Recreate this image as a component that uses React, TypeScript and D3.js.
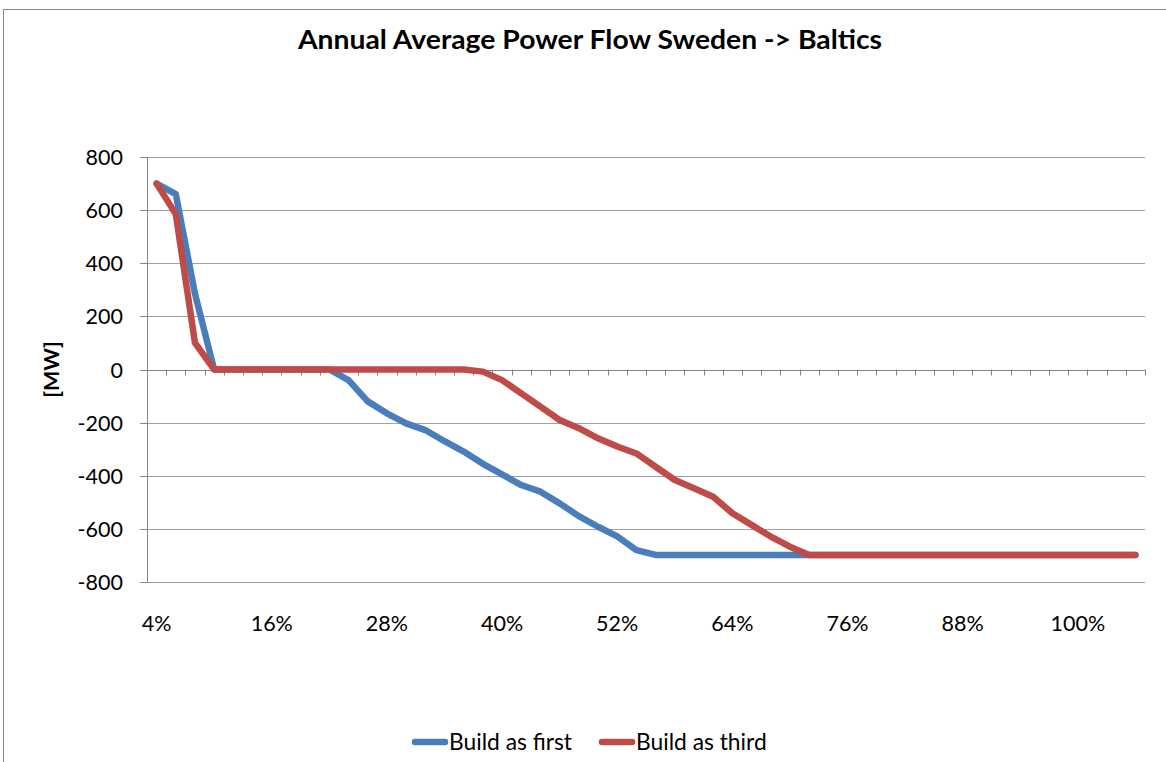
import React from "react";
import * as d3 from "d3";

const categories: string[] = Array.from({ length: 52 }, (_, i) => `${4 + i * 2}%`);
const tickLabels = ["4%", "16%", "28%", "40%", "52%", "64%", "76%", "88%", "100%"];

const buildAsFirst: number[] = [
  700, 660, 285, 0, 0, 0, 0, 0, 0, 0,
  -40, -120, -165, -203, -228, -270, -309, -355, -395, -435,
  -460, -504, -552, -592, -628, -680, -698, -698, -698, -698,
  -698, -698, -698, -698, -698, -698, -698, -698, -698, -698,
  -698, -698, -698, -698, -698, -698, -698, -698, -698, -698,
  -698, -698,
];
const buildAsThird: number[] = [
  700, 585, 100, 0, 0, 0, 0, 0, 0, 0,
  0, 0, 0, 0, 0, 0, 0, -8, -40, -90,
  -140, -190, -221, -259, -290, -316, -366, -416, -447, -479,
  -541, -585, -629, -667, -698, -698, -698, -698, -698, -698,
  -698, -698, -698, -698, -698, -698, -698, -698, -698, -698,
  -698, -698,
];
const yTicks = [800, 600, 400, 200, 0, -200, -400, -600, -800];

const seriesNames = ["Build as first", "Build as third"];
const colors = ["#4A7EBB", "#BE4B48"];

export default function App() {
  const W = 1166, H = 762;
  const left = 147, right = 1145, top = 157, bottom = 582;
  const x = d3.scaleBand<string>().domain(categories).range([left, right]);
  const y = d3.scaleLinear().domain([-800, 800]).range([bottom, top]);
  const cx = (c: string) => (x(c) as number) + x.bandwidth() / 2;
  const line = d3
    .line<number>()
    .x((_, i) => cx(categories[i]))
    .y((d) => y(d));
  const font = "Lato, 'Open Sans', sans-serif";
  const gridColor = "#A0A0A0";
  const axisColor = "#868686";
  const fs = 21.5;
  return (
    <div style={{ position: "absolute", left: 0, top: 0 }}>
      <svg width={W} height={H} style={{ display: "block" }}>
        <rect x={0} y={0} width={W} height={H} fill="#fff" />
        <rect x={3.5} y={9.5} width={W + 10} height={H + 10} fill="none" stroke="#8a8a8a" strokeWidth={1} />
        <text x={590} y={49} textAnchor="middle" fontFamily={font} fontWeight="bold" fontSize={26} fill="#000" textLength={584} lengthAdjust="spacingAndGlyphs">
          Annual Average Power Flow Sweden -&gt; Baltics
        </text>
        {yTicks.map((t) => (
          <g key={t}>
            <line x1={left} x2={right} y1={Math.round(y(t)) + 0.5} y2={Math.round(y(t)) + 0.5} stroke={t === 0 ? axisColor : gridColor} strokeWidth={1} />
            <line x1={left - 7} x2={left} y1={Math.round(y(t)) + 0.5} y2={Math.round(y(t)) + 0.5} stroke={axisColor} />
            <text x={123} y={y(t) + 8} textAnchor="end" fontFamily={font} fontSize={fs} fill="#000">
              {t}
            </text>
          </g>
        ))}
        <line x1={left + 0.5} x2={left + 0.5} y1={top} y2={bottom} stroke={axisColor} strokeWidth={1} />
        {categories.map((c) => (
          <line key={c} x1={Math.round((x(c) as number) + x.bandwidth()) + 0.5} x2={Math.round((x(c) as number) + x.bandwidth()) + 0.5} y1={y(0)} y2={y(0) + 6} stroke={axisColor} />
        ))}
        {tickLabels.map((t) => (
          <text key={t} x={cx(t)} y={631} textAnchor="middle" fontFamily={font} fontSize={fs} fill="#000">
            {t}
          </text>
        ))}
        <text transform={`translate(59,${y(0)}) rotate(-90)`} textAnchor="middle" fontFamily={font} fontWeight="bold" fontSize={fs} fill="#000">
          [MW]
        </text>
        {[buildAsFirst, buildAsThird].map((s, k) => (
          <path key={k} d={line(s) as string} fill="none" stroke={colors[k]} strokeWidth={6.5} strokeLinejoin="round" strokeLinecap="round" />
        ))}
        {seriesNames.map((n, k) => {
          const lx = k === 0 ? 413 : 600;
          return (
            <g key={n}>
              <line x1={lx + 2} x2={lx + 32} y1={742} y2={742} stroke={colors[k]} strokeWidth={6.5} strokeLinecap="round" />
              <text x={lx + 36} y={750} fontFamily={font} fontSize={22.8} fill="#000">
                {n}
              </text>
            </g>
          );
        })}
      </svg>
    </div>
  );
}
